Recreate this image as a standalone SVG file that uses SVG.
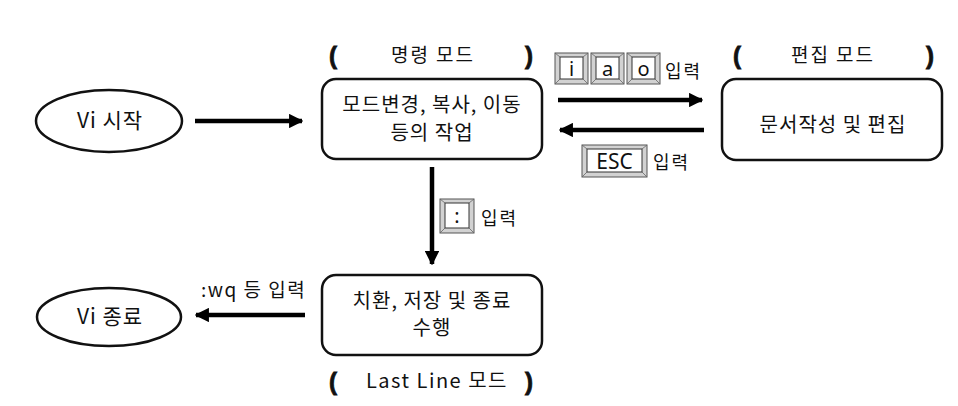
<svg xmlns="http://www.w3.org/2000/svg" width="958" height="406" viewBox="0 0 958 406">
<defs>
<style>
text{font-family:"Noto Sans CJK KR","Liberation Sans",sans-serif;fill:#111;}
.t{font-size:20px;text-anchor:middle;letter-spacing:1px;}
.h{font-size:19px;text-anchor:middle;letter-spacing:2px;}
.lbl{font-size:18px;letter-spacing:2px;}
.br{font-family:"Liberation Sans","Noto Sans CJK KR",sans-serif;font-size:24px;font-weight:bold;text-anchor:middle;stroke:#111;stroke-width:0.8;}
.node{fill:#fff;stroke:#111;stroke-width:2.5;}
.conn{stroke:#000;stroke-width:4.5;fill:none;}
.ko{fill:#d2d2d2;stroke:#555;stroke-width:1;}
.ki{fill:#fff;stroke:#333;stroke-width:1;}
.bv{stroke:#666;stroke-width:0.8;}
.kt{font-family:"Noto Sans","Liberation Sans",sans-serif;font-size:20px;text-anchor:middle;}
</style>
<marker id="ah" viewBox="0 0 10 10" refX="9" refY="5" markerWidth="3.2" markerHeight="3.2" orient="auto" markerUnits="strokeWidth">
<path d="M0,0 L10,5 L0,10 z" fill="#000"/>
</marker>
</defs>
<rect width="958" height="406" fill="#fff"/>

<g id="connectors">
<line class="conn" x1="195" y1="121" x2="302" y2="121" marker-end="url(#ah)"/>
<line class="conn" x1="558" y1="100" x2="702" y2="100" marker-end="url(#ah)"/>
<line class="conn" x1="704" y1="130" x2="560" y2="130" marker-end="url(#ah)"/>
<line class="conn" x1="432" y1="167" x2="432" y2="264" marker-end="url(#ah)"/>
<line class="conn" x1="305" y1="315" x2="196" y2="315" marker-end="url(#ah)"/>
</g>

<g id="vi-start">
<ellipse class="node" cx="109" cy="121" rx="73" ry="31"/>
<text class="t" x="110" y="128" style="font-size:21px">Vi 시작</text>
</g>

<g id="command-mode">
<text class="br" x="333" y="64">(</text>
<text class="h" x="433" y="62">명령 모드</text>
<text class="br" x="529" y="64">)</text>
<rect class="node" x="322" y="79" width="220" height="80" rx="14"/>
<text class="t" x="432" y="112">모드변경, 복사, 이동</text>
<text class="t" x="432" y="140">등의 작업</text>
</g>

<g id="edit-mode">
<text class="br" x="737" y="64">(</text>
<text class="h" x="833" y="62">편집 모드</text>
<text class="br" x="930" y="64">)</text>
<rect class="node" x="722" y="79" width="220" height="81" rx="14"/>
<text class="t" x="833" y="132">문서작성 및 편집</text>
</g>

<g id="lastline-mode">
<rect class="node" x="322" y="275" width="220" height="80" rx="14"/>
<text class="t" x="432" y="308">치환, 저장 및 종료</text>
<text class="t" x="432" y="335">수행</text>
<text class="br" x="333" y="390">(</text>
<text class="h" x="437" y="388" style="font-size:20px;letter-spacing:1.5px">Last Line 모드</text>
<text class="br" x="529" y="390">)</text>
</g>

<g id="vi-end">
<ellipse class="node" cx="109" cy="317" rx="72" ry="29"/>
<text class="t" x="110" y="324" style="font-size:21px">Vi 종료</text>
</g>

<g id="key-iao">
<rect class="ko" x="555" y="53" width="33" height="31"/>
<rect class="ki" x="560" y="57" width="23" height="22"/>
<path class="bv" d="M555,53 L560,57 M588,53 L583,57 M555,84 L560,79 M588,84 L583,79"/>
<text class="kt" x="571.5" y="76">i</text>
<rect class="ko" x="591" y="53" width="33" height="31"/>
<rect class="ki" x="596" y="57" width="23" height="22"/>
<path class="bv" d="M591,53 L596,57 M624,53 L619,57 M591,84 L596,79 M624,84 L619,79"/>
<text class="kt" x="607.5" y="76">a</text>
<rect class="ko" x="627" y="53" width="33" height="31"/>
<rect class="ki" x="632" y="57" width="23" height="22"/>
<path class="bv" d="M627,53 L632,57 M660,53 L655,57 M627,84 L632,79 M660,84 L655,79"/>
<text class="kt" x="643.5" y="76">o</text>
<text class="lbl" x="665" y="78">입력</text>
</g>

<g id="key-esc">
<rect class="ko" x="582" y="145" width="65" height="32"/>
<rect class="ki" x="587" y="149" width="55" height="23"/>
<path class="bv" d="M582,145 L587,149 M647,145 L642,149 M582,177 L587,172 M647,177 L642,172"/>
<text class="kt" x="614.5" y="169" style="font-size:21px">ESC</text>
<text class="lbl" x="653" y="169">입력</text>
</g>

<g id="key-colon">
<rect class="ko" x="440" y="199" width="34" height="34"/>
<rect class="ki" x="445" y="203" width="24" height="25"/>
<path class="bv" d="M440,199 L445,203 M474,199 L469,203 M440,233 L445,228 M474,233 L469,228"/>
<text class="kt" x="457" y="223">:</text>
<text class="lbl" x="481" y="225">입력</text>
</g>

<g id="label-wq">
<text class="lbl" x="201" y="297" style="font-size:19px;letter-spacing:1.5px">:wq 등 입력</text>
</g>
</svg>
